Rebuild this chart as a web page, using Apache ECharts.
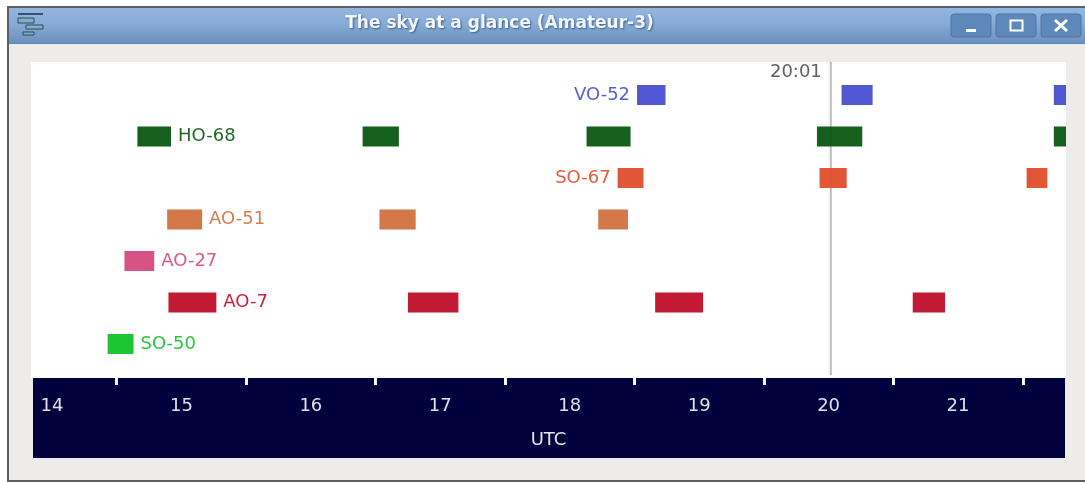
<!DOCTYPE html>
<html>
<head>
<meta charset="utf-8">
<style>
  html, body { margin: 0; padding: 0; background: #fff; }
  #main { width: 1085px; height: 482px; }
</style>
<script src="https://cdn.jsdelivr.net/npm/echarts@6/dist/echarts.min.js"></script>
</head>
<body>
<div id="main"></div>
<script>
var satellites = ['VO-52', 'HO-68', 'SO-67', 'AO-51', 'AO-27', 'AO-7', 'SO-50'];
var satColors = ['#4a50d0', '#0d5a14', '#e04f2f', '#d17340', '#d64c80', '#c0102c', '#12c42a'];
var labelSides = ['left', 'right', 'left', 'right', 'right', 'right', 'right'];

// passes in UTC hours, [start, end]
var vo52 = [[18.52, 18.74], [20.10, 20.34], [21.74, 21.95]];
var ho68 = [[14.66, 14.92], [16.40, 16.68], [18.13, 18.47], [19.91, 20.26], [21.74, 21.98]];
var so67 = [[18.37, 18.57], [19.93, 20.14], [21.53, 21.69]];
var ao51 = [[14.89, 15.16], [16.53, 16.81], [18.22, 18.45]];
var ao27 = [[14.56, 14.79]];
var ao7 = [[14.90, 15.27], [16.75, 17.14], [18.66, 19.03], [20.65, 20.90]];
var so50 = [[14.43, 14.63]];
var passes = [vo52, ho68, so67, ao51, ao27, ao7, so50];

var hourTicks = [14, 15, 16, 17, 18, 19, 20, 21];
var halfTicks = [14.5, 15.5, 16.5, 17.5, 18.5, 19.5, 20.5, 21.5];
var nowTime = 20.017;
var nowLabel = '20:01';
var FONT = '18px "DejaVu Sans"';

var barData = [];
passes.forEach(function (list, row) {
  list.forEach(function (p, i) {
    barData.push([p[0], p[1], row, i === 0 ? 1 : 0]);
  });
});

function renderPass(params, api) {
  var row = api.value(2);
  var a = api.coord([api.value(0), row]);
  var b = api.coord([api.value(1), row]);
  var color = satColors[row];
  var kids = [{
    type: 'rect',
    shape: { x: a[0], y: a[1] - 10, width: b[0] - a[0], height: 20 },
    style: { fill: color, opacity: 0.96 }
  }];
  if (api.value(3)) {
    var left = labelSides[row] === 'left';
    kids.push({
      type: 'text',
      style: {
        x: left ? a[0] - 7 : b[0] + 7,
        y: a[1],
        text: satellites[row],
        fill: color,
        font: FONT,
        align: left ? 'right' : 'left',
        verticalAlign: 'middle',
        opacity: 0.92
      }
    });
  }
  return { type: 'group', children: kids };
}

function renderNow(params, api) {
  var top = api.coord([api.value(0), -0.795]);
  var bottom = api.coord([api.value(0), 6.75]);
  return {
    type: 'group',
    children: [{
      type: 'line',
      shape: { x1: top[0], y1: top[1], x2: bottom[0], y2: bottom[1] },
      style: { stroke: '#bcbcbc', lineWidth: 2 }
    }, {
      type: 'text',
      style: {
        x: top[0] - 9, y: top[1] + 10,
        text: nowLabel, fill: '#606060', font: FONT,
        align: 'right', verticalAlign: 'middle'
      }
    }]
  };
}

// window frame around the plot
var chrome = [
  { type: 'rect', z: -5, shape: { x: 7, y: 6, width: 1078, height: 476 }, style: { fill: '#5e5e5e' } },
  { type: 'rect', z: -4, shape: { x: 9, y: 8, width: 1076, height: 472 }, style: { fill: '#edecea' } },
  { type: 'rect', z: -3, shape: { x: 9, y: 8, width: 1076, height: 35 }, style: {
    fill: new echarts.graphic.LinearGradient(0, 0, 0, 1, [
      { offset: 0, color: '#93b6df' }, { offset: 0.45, color: '#86abd8' }, { offset: 1, color: '#6c90bb' }
    ])
  } },
  { type: 'rect', z: -3, shape: { x: 9, y: 43, width: 1076, height: 1 }, style: { fill: '#5b86c4' } },
  // icon
  { type: 'rect', z: -2, shape: { x: 18, y: 13, width: 25, height: 2 }, style: { fill: '#3c5068' } },
  { type: 'rect', z: -2, shape: { x: 18, y: 18, width: 16, height: 5 }, style: { fill: '#7fb0c4', stroke: '#33465c', lineWidth: 1 } },
  { type: 'rect', z: -2, shape: { x: 26, y: 25, width: 17, height: 4 }, style: { fill: '#7fb0c4', stroke: '#33465c', lineWidth: 1 } },
  { type: 'rect', z: -2, shape: { x: 23, y: 32, width: 11, height: 3 }, style: { fill: '#7fb0c4', stroke: '#33465c', lineWidth: 1 } },
  // title
  { type: 'text', z: -2, style: {
    x: 499.5, y: 24, text: 'The sky at a glance (Amateur-3)', fill: '#f2f6fb',
    font: 'bold 17px "DejaVu Sans"', align: 'center', verticalAlign: 'middle',
    textShadowColor: '#3f5f88', textShadowBlur: 2, textShadowOffsetX: 1, textShadowOffsetY: 1
  } },
  // buttons
  { type: 'rect', z: -2, shape: { x: 951, y: 14, width: 40, height: 23, r: 3 }, style: { fill: '#5f88ba', stroke: '#4e74a3', lineWidth: 1 } },
  { type: 'rect', z: -2, shape: { x: 996, y: 14, width: 40, height: 23, r: 3 }, style: { fill: '#5f88ba', stroke: '#4e74a3', lineWidth: 1 } },
  { type: 'rect', z: -2, shape: { x: 1041, y: 14, width: 40, height: 23, r: 3 }, style: { fill: '#5f88ba', stroke: '#4e74a3', lineWidth: 1 } },
  { type: 'rect', z: -1, shape: { x: 966, y: 29, width: 10, height: 3 }, style: { fill: '#ffffff' } },
  { type: 'rect', z: -1, shape: { x: 1010.5, y: 20.5, width: 12, height: 10 }, style: { fill: 'none', stroke: '#ffffff', lineWidth: 2 } },
  { type: 'line', z: -1, shape: { x1: 1055, y1: 20, x2: 1067, y2: 31 }, style: { stroke: '#ffffff', lineWidth: 3 } },
  { type: 'line', z: -1, shape: { x1: 1067, y1: 20, x2: 1055, y2: 31 }, style: { stroke: '#ffffff', lineWidth: 3 } },
  // axis band
  { type: 'rect', z: -1, shape: { x: 33, y: 378, width: 1032, height: 80 }, style: { fill: '#00003c' } }
];

var chart = echarts.init(document.getElementById('main'), null, { renderer: 'canvas' });

chart.setOption({
  animation: false,
  backgroundColor: '#ffffff',
  graphic: { elements: chrome },
  grid: {
    left: 31, top: 62, width: 1035, height: 316,
    show: true, backgroundColor: '#ffffff', borderWidth: 0
  },
  xAxis: [{
    type: 'value',
    min: 13.838, max: 21.834,
    position: 'bottom',
    name: 'UTC',
    nameLocation: 'middle',
    nameGap: 53,
    nameTextStyle: { color: '#e6e6e6', font: FONT, fontFamily: 'DejaVu Sans', fontSize: 18 },
    splitLine: { show: false },
    axisLine: { show: false },
    axisTick: { show: true, length: 15, lineStyle: { color: '#ffffff', width: 3 }, customValues: hourTicks },
    axisLabel: {
      color: '#e0e0e8', fontFamily: 'DejaVu Sans', fontSize: 18, margin: 19,
      customValues: hourTicks, formatter: '{value}'
    }
  }, {
    type: 'value',
    min: 13.838, max: 21.834,
    position: 'bottom',
    splitLine: { show: false },
    axisLine: { show: false },
    axisTick: { show: true, length: 7, lineStyle: { color: '#ffffff', width: 3 }, customValues: halfTicks },
    axisLabel: { show: false }
  }],
  yAxis: { type: 'value', min: -0.795, max: 6.82, inverse: true, show: false },
  series: [{
    type: 'custom',
    name: 'now',
    renderItem: renderNow,
    encode: { x: 0 },
    data: [[nowTime]],
    silent: true,
    z: 1
  }, {
    type: 'custom',
    name: 'passes',
    renderItem: renderPass,
    encode: { x: [0, 1], y: 2 },
    data: barData,
    clip: true,
    silent: true,
    z: 2
  }]
});
</script>
</body>
</html>
